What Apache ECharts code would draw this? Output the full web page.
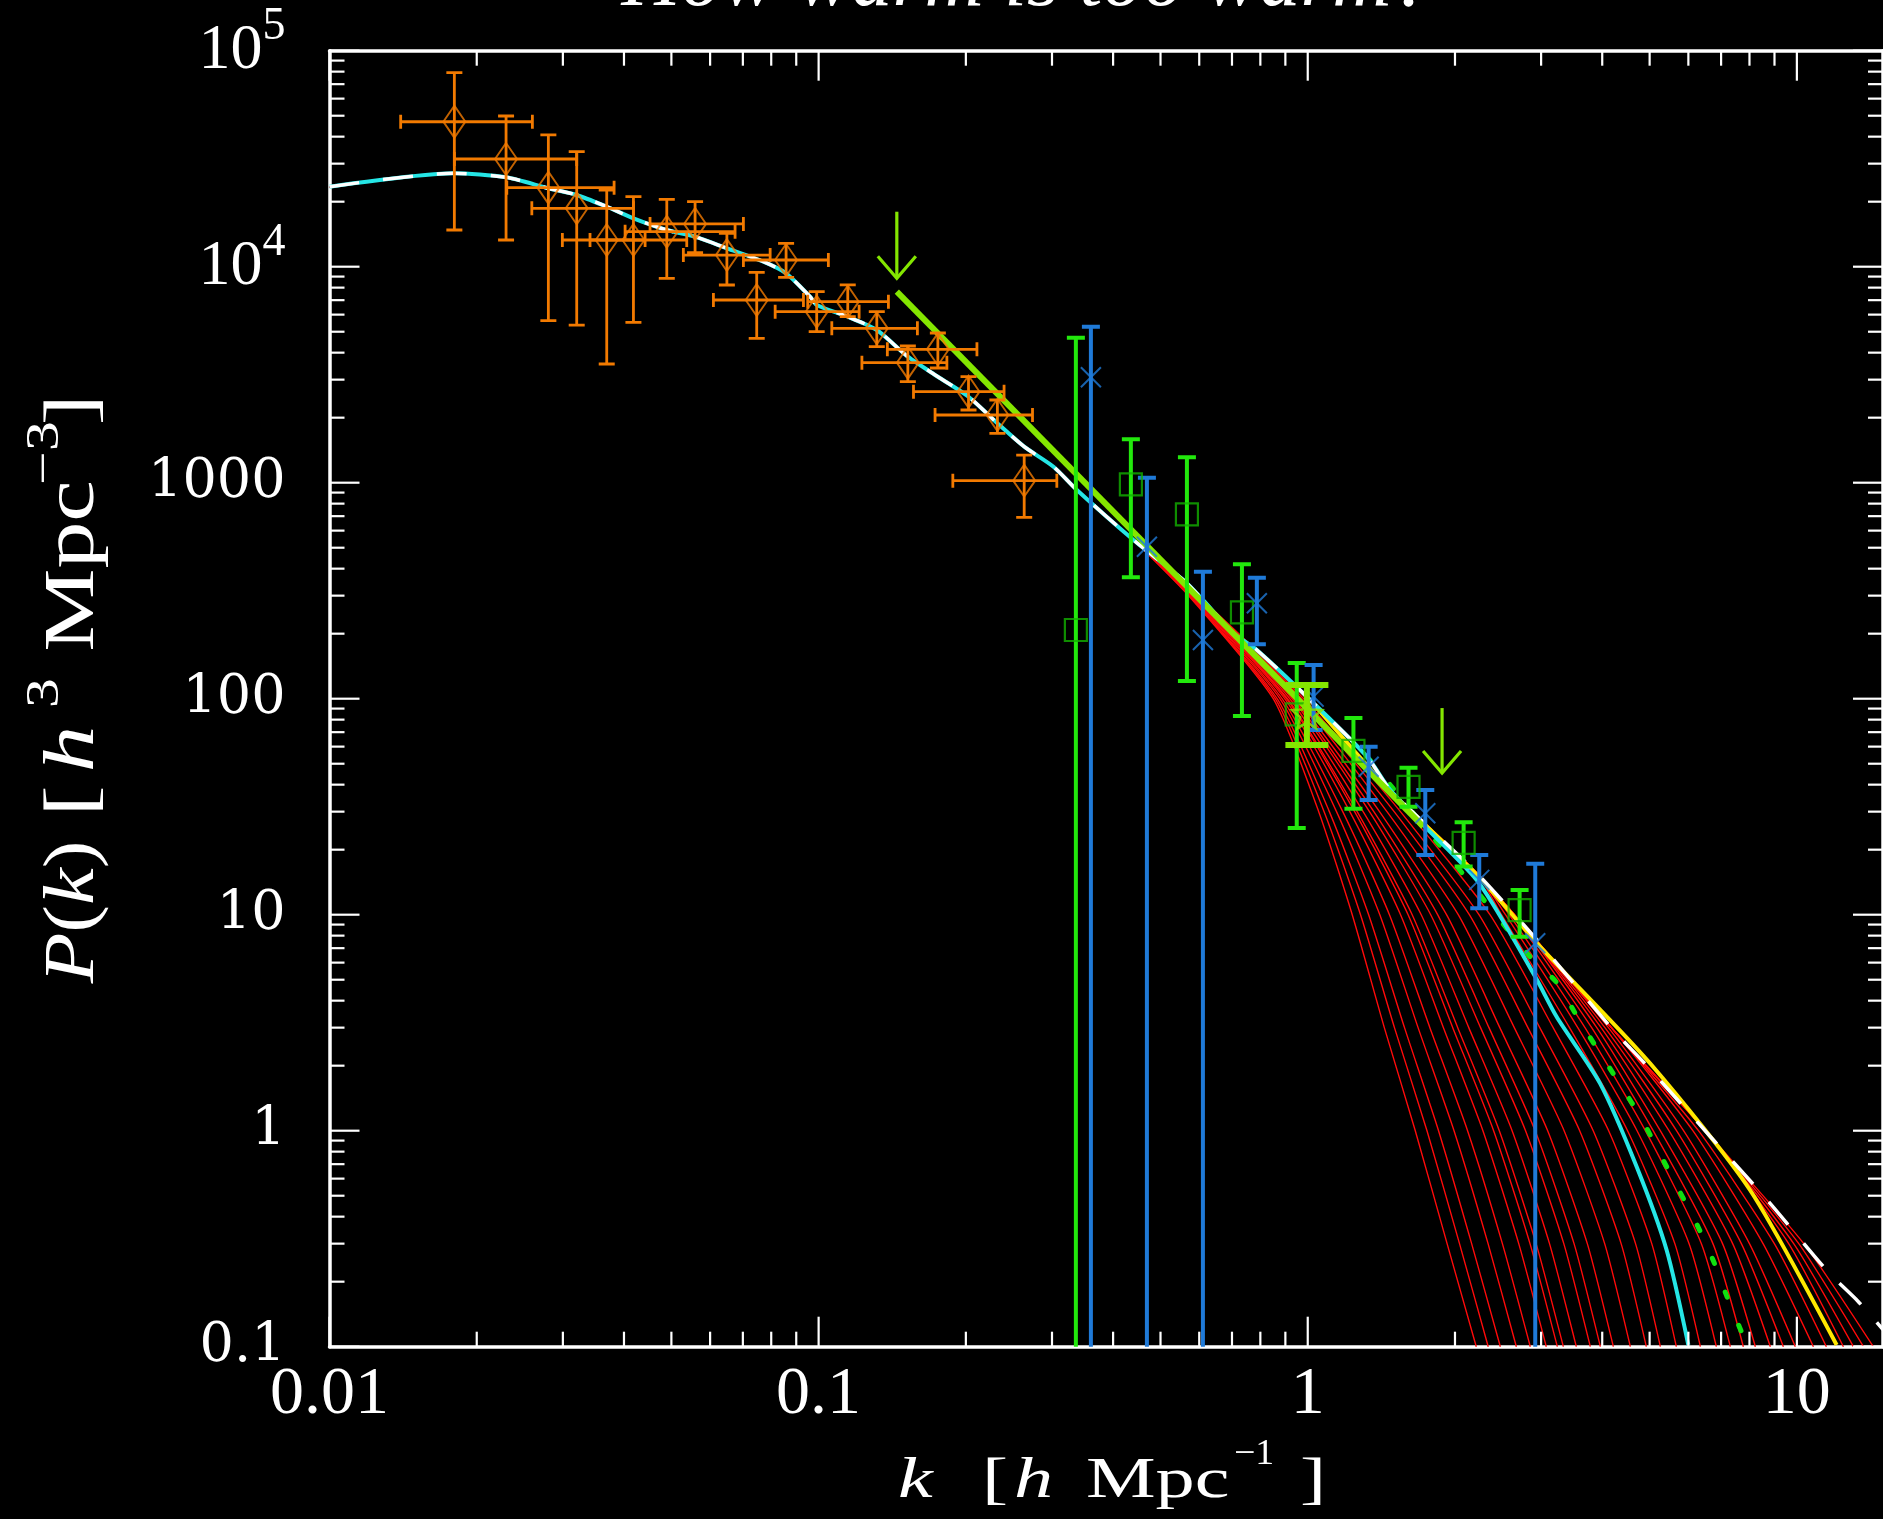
<!DOCTYPE html>
<html><head><meta charset="utf-8">
<script src="https://cdn.jsdelivr.net/npm/echarts@6/dist/echarts.min.js"></script>
<style>html,body{margin:0;padding:0;background:#000;overflow:hidden}#c{width:1883px;height:1519px}</style>
</head><body><div id="c"></div>
<script>
// ---------- data ----------
const xMajorTicks = [0.01, 0.1, 1, 10];
const xMinorTicks = [0.02,0.03,0.04,0.05,0.06,0.07,0.08,0.09,0.2,0.3,0.4,0.5,0.6,0.7,0.8,0.9,2,3,4,5,6,7,8,9];
const yMajorTicks = [0.1, 1, 10, 100, 1000, 10000, 100000];
const yMinorTicks = [0.2,0.3,0.4,0.5,0.6,0.7,0.8,0.9,2,3,4,5,6,7,8,9,20,30,40,50,60,70,80,90,200,300,400,500,600,700,800,900,2000,3000,4000,5000,6000,7000,8000,9000,20000,30000,40000,50000,60000,70000,80000,90000];
const xTickLabels = {'-2': '0.01', '-1': '0.1', '0': '1', '1': '10'};
const yTickLabels = {'-1': '0.1', '0': '1', '1': '10', '2': '100', '3': '1000'};

// orange galaxy points: k, P, Plo, Phi, klo, khi
const orangePts = [
 [0.0180, 46900, 14790, 79100, 0.01398, 0.02599],
 [0.02296, 31520, 13290, 49860, 0.0180, 0.03202],
 [0.02802, 23220, 5623, 40730, 0.02304, 0.03818],
 [0.03202, 18640, 5370, 34080, 0.02592, 0.04182],
 [0.03688, 13290, 3544, 22650, 0.02993, 0.04418],
 [0.04182, 13290, 5528, 21090, 0.03409, 0.05375],
 [0.04893, 14520, 8838, 20510, 0.04021, 0.06748],
 [0.05590, 15770, 11610, 20000, 0.04522, 0.07018],
 [0.06493, 11320, 8226, 14280, 0.0529, 0.0796],
 [0.07472, 7013, 4662, 9420, 0.06094, 0.0931],
 [0.0858, 10740, 8930, 12830, 0.07018, 0.1047],
 [0.0991, 6190, 5000, 7660, 0.0815, 0.121],
 [0.1147, 6887, 5868, 8230, 0.095, 0.1389],
 [0.1315, 5185, 4262, 6190, 0.1064, 0.1592],
 [0.1522, 3594, 2935, 4294, 0.1226, 0.1829],
 [0.1753, 4146, 3396, 4932, 0.1382, 0.2107],
 [0.2025, 2638, 2171, 3095, 0.1563, 0.2394],
 [0.2320, 2058, 1693, 2415, 0.1730, 0.2737],
 [0.2632, 1022, 691, 1343, 0.1881, 0.3069]
];
// green squares: k, P, Plo, Phi  (Plo 0.01 = bar runs off the bottom)
const greenPts = [
 [0.3357, 208, 0.01, 4691],
 [0.4349, 983, 364.8, 1589],
 [0.5662, 714, 120.8, 1311],
 [0.7336, 251, 83.2, 419],
 [0.9495, 84.7, 25.2, 146.3],
 [1.240, 57.3, 30.9, 81.4],
 [1.607, 39.1, 31.6, 47.9],
 [2.083, 21.5, 16.7, 26.8],
 [2.711, 10.5, 7.91, 13.0]
];
// blue crosses: k, P, Plo, Phi
const bluePts = [
 [0.3603, 3076, 0.01, 5274],
 [0.469, 505.5, 0.01, 1055],
 [0.6105, 187, 0.01, 387],
 [0.787, 276.5, 178.6, 363.3],
 [1.028, 102.2, 71.6, 143.2],
 [1.332, 48.4, 34.0, 59.9],
 [1.739, 29.5, 18.9, 37.8],
 [2.242, 14.5, 10.7, 18.9],
 [2.918, 7.37, 0.01, 17.2]
];
// lime point with wide caps: k, P, Plo, Phi
const limePts = [[0.996, 85.5, 61.0, 115.7]];
// arrows: k, P at tail, P at tip
const arrows = [[0.1445, 17970, 8837], [1.882, 90.5, 45.3]];
// power-law fit segment
const fitLine = [[0.1445, 7660], [1.723, 25.55]];

// CDM model (white dashed)
const cdmCurve = [
 [0.01,23460],[0.01792,27070],[0.02296,25930],[0.02802,23070],[0.03202,21480],[0.03688,18950],
 [0.04182,16750],[0.04893,14790],[0.0559,13770],[0.06493,12170],[0.07711,10550],[0.0858,9320],
 [0.09607,7262],[0.0991,6648],[0.1147,5868],[0.1315,5092],[0.1522,3831],[0.1753,3095],[0.2025,2501],
 [0.232,1884],[0.2632,1468],[0.3021,1186],[0.3373,925],[0.4403,543],[0.557,354],[0.6105,286.4],
 [0.7051,200.8],[0.787,168.1],[1.012,98.6],[1.322,53.9],[1.475,37.8],[2.218,15.55],[2.942,7.637],
 [4.155,3.03],[4.915,2.02],[6.62,0.952],[8.76,0.469],[11.59,0.2215],[13.33,0.1624],[15,0.12]
];
// cyan model: follows the CDM to k~1.5, then these points
const cyanTail = [[1.739,25.5],[2.242,13.97],[2.918,5.16],[3.227,3.37],[3.959,1.657],[4.704,0.681],[5.416,0.2804],[6.0,0.1018]];
const yellowCurve = [[1.012,98.6],[1.475,37.4],[2.218,15.3],[3.031,6.865],[5.01,2.051],[8.02,0.5315],[12.06,0.1018]];
const greenDotted = [[1.322,53.9],[2.019,16.7],[2.847,6.39],[3.227,4.855],[3.604,3.195],[3.959,2.288],[4.382,1.598],[4.815,1.133],[5.25,0.780],[5.723,0.537],[6.238,0.370],[6.749,0.250],[7.185,0.1722],[7.711,0.1165]];

// red WDM family: k at which each curve crosses the P levels below
const redLeftLevels = [300, 100, 30, 10, 3, 1, 0.3, 0.1];
const redLeftK = [
 [0.5707, 0.850, 1.053, 1.233, 1.434, 1.659, 1.927, 2.211],
 [0.5724, 0.858, 1.080, 1.282, 1.504, 1.753, 2.043, 2.339],
 [0.5737, 0.866, 1.107, 1.332, 1.577, 1.851, 2.163, 2.476],
 [0.5759, 0.877, 1.145, 1.404, 1.681, 1.991, 2.337, 2.670],
 [0.5776, 0.886, 1.179, 1.469, 1.777, 2.122, 2.500, 2.851],
 [0.5798, 0.897, 1.219, 1.548, 1.894, 2.281, 2.700, 3.074],
 [0.5811, 0.905, 1.247, 1.604, 1.979, 2.399, 2.847, 3.238],
 [0.5819, 0.909, 1.262, 1.635, 2.026, 2.464, 2.930, 3.331],
 [0.5837, 0.919, 1.298, 1.706, 2.134, 2.617, 3.121, 3.541],
 [0.5856, 0.929, 1.337, 1.784, 2.256, 2.788, 3.338, 3.782],
 [0.5867, 0.936, 1.365, 1.843, 2.347, 2.917, 3.503, 3.965],
 [0.5886, 0.946, 1.402, 1.922, 2.470, 3.094, 3.729, 4.215],
 [0.5909, 0.958, 1.452, 2.031, 2.644, 3.343, 4.046, 4.566],
 [0.5928, 0.970, 1.502, 2.140, 2.819, 3.597, 4.372, 4.923],
 [0.5947, 0.981, 1.547, 2.239, 2.981, 3.834, 4.679, 5.259],
 [0.5968, 0.993, 1.599, 2.358, 3.175, 4.123, 5.050, 5.670]
];
const redRightLevels = [10, 3, 1, 0.3, 0.1];
const redRightK = [
 [2.489, 3.429, 4.507, 5.630, 6.349],
 [2.537, 3.565, 4.713, 6.021, 6.845],
 [2.581, 3.688, 4.901, 6.379, 7.311],
 [2.622, 3.806, 5.084, 6.736, 7.773],
 [2.644, 3.899, 5.257, 7.047, 8.225],
 [2.644, 3.979, 5.476, 7.391, 8.827],
 [2.644, 4.051, 5.675, 7.700, 9.385],
 [2.644, 4.119, 5.866, 8.000, 9.929],
 [2.644, 4.176, 6.129, 8.529, 10.81],
 [2.644, 4.176, 6.293, 8.994, 11.49],
 [2.644, 4.176, 6.500, 9.621, 12.45],
 [2.644, 4.176, 6.500, 9.851, 13.05],
 [2.644, 4.176, 6.500, 10.09, 13.68],
 [2.644, 4.176, 6.500, 10.33, 14.33]
];
const redLeftShareK = 0.4403;   // left curves share the CDM up to here
const redRightShareK = 2.218;   // right curves share the CDM up to here
const cyanShareK = 1.475;

// ---------- colours ----------
const C_ORANGE = '#f27a00', C_GREEN = '#22e80c', C_GREEN_SQ = '#13b000', C_BLUE = '#1f7ad8',
      C_LIME = '#84e600', C_CYAN = '#25e6e6', C_RED = '#ff0a0a', C_YELLOW = '#ffe800';

// ---------- build ----------
const chart = echarts.init(document.getElementById('c'), null, {renderer: 'canvas'});

function tickRender(axis) {
  return function (params, api) {
    const cs = params.coordSys, len = api.value(2), st = {stroke: '#fff', lineWidth: 2.2};
    if (axis === 'x') {
      const x = api.coord([api.value(0), 1])[0];
      return {type: 'group', children: [
        {type: 'line', shape: {x1: x, y1: cs.y + cs.height, x2: x, y2: cs.y + cs.height - len}, style: st},
        {type: 'line', shape: {x1: x, y1: cs.y, x2: x, y2: cs.y + len}, style: st}]};
    }
    const y = api.coord([1, api.value(1)])[1];
    return {type: 'group', children: [
      {type: 'line', shape: {x1: cs.x, y1: y, x2: cs.x + len, y2: y}, style: st},
      {type: 'line', shape: {x1: cs.x + cs.width, y1: y, x2: cs.x + cs.width - len, y2: y}, style: st}]};
  };
}
function errRender(o) {
  return function (params, api) {
    const k = api.value(0), P = api.value(1), lo = api.value(2), hi = api.value(3);
    const klo = api.value(4), khi = api.value(5);
    const c = api.coord([k, P]), a = api.coord([k, lo]), b = api.coord([k, hi]);
    const st = {stroke: o.color, lineWidth: o.lw};
    const w = o.capW / 2;
    const ch = [
      {type: 'line', shape: {x1: c[0], y1: a[1], x2: c[0], y2: b[1]}, style: st},
      {type: 'line', shape: {x1: c[0] - w, y1: a[1], x2: c[0] + w, y2: a[1]}, style: st},
      {type: 'line', shape: {x1: c[0] - w, y1: b[1], x2: c[0] + w, y2: b[1]}, style: st}];
    if (klo > 0 && khi > klo) {
      const l = api.coord([klo, P]), r = api.coord([khi, P]), h = o.capH / 2;
      ch.push({type: 'line', shape: {x1: l[0], y1: c[1], x2: r[0], y2: c[1]}, style: st},
              {type: 'line', shape: {x1: l[0], y1: c[1] - h, x2: l[0], y2: c[1] + h}, style: st},
              {type: 'line', shape: {x1: r[0], y1: c[1] - h, x2: r[0], y2: c[1] + h}, style: st});
    }
    return {type: 'group', children: ch};
  };
}
function arrowRender(params, api) {
  const t = api.coord([api.value(0), api.value(1)]), b = api.coord([api.value(0), api.value(2)]);
  const st = {stroke: C_LIME, lineWidth: 3.2, fill: null};
  return {type: 'group', children: [
    {type: 'line', shape: {x1: t[0], y1: t[1], x2: b[0], y2: b[1]}, style: st},
    {type: 'polyline', shape: {points: [[b[0] - 19, b[1] - 22], [b[0], b[1]], [b[0] + 19, b[1] - 22]]}, style: st}]};
}
function lineSeries(data, color, width, extra) {
  return Object.assign({type: 'line', data: data, showSymbol: false, symbol: 'none', silent: true,
    lineStyle: {color: color, width: width}, clip: true}, extra || {});
}

const xTickData = xMajorTicks.map(v => [v, 1, 30]).concat(xMinorTicks.map(v => [v, 1, 15]));
const yTickData = yMajorTicks.map(v => [1, v, 30]).concat(yMinorTicks.map(v => [1, v, 15]));

const series = [];
// red family
redLeftK.forEach(ks => {
  const pts = cdmCurve.filter(p => p[0] <= redLeftShareK).concat(ks.map((k, j) => [k, redLeftLevels[j]]));
  series.push(lineSeries(pts, C_RED, 1.4, {smooth: 0.2, z: 2}));
});
redRightK.forEach(ks => {
  const pts = cdmCurve.filter(p => p[0] <= redRightShareK).concat(ks.map((k, j) => [k, redRightLevels[j]]));
  series.push(lineSeries(pts, C_RED, 1.4, {smooth: 0.2, z: 2}));
});
series.push(lineSeries(yellowCurve, C_YELLOW, 4, {smooth: 0.25, z: 3}));
series.push(lineSeries(greenDotted, '#10e010', 5, {smooth: 0.25, z: 3,
  lineStyle: {color: '#10e010', width: 5, type: [6, 30], cap: 'round'}}));
series.push(lineSeries(cdmCurve.filter(p => p[0] <= cyanShareK).concat(cyanTail), C_CYAN, 4, {smooth: 0.25, z: 4}));
series.push(lineSeries(cdmCurve, '#ffffff', 3.5, {smooth: 0.25, z: 5,
  lineStyle: {color: '#ffffff', width: 3.5, type: [30, 24]}}));
series.push(lineSeries(fitLine, C_LIME, 6, {z: 6}));

// data with error bars
series.push({type: 'custom', renderItem: errRender({color: C_ORANGE, lw: 2.8, capW: 16, capH: 14}),
  data: orangePts, clip: true, z: 7, encode: {x: 0, y: 1}, silent: true});
series.push({type: 'scatter', data: orangePts.map(p => [p[0], p[1]]), symbol: 'diamond', symbolSize: [22, 32],
  itemStyle: {color: 'rgba(0,0,0,0)', borderColor: C_ORANGE, borderWidth: 2}, z: 7, silent: true});
series.push({type: 'custom', renderItem: errRender({color: C_GREEN, lw: 4, capW: 18, capH: 0}),
  data: greenPts.map(p => p.concat([0, 0])), clip: true, z: 8, encode: {x: 0, y: 1}, silent: true});
series.push({type: 'scatter', data: greenPts.map(p => [p[0], p[1]]), symbol: 'rect', symbolSize: 22,
  itemStyle: {color: 'rgba(0,0,0,0)', borderColor: C_GREEN_SQ, borderWidth: 2.2}, z: 8, silent: true});
series.push({type: 'custom', renderItem: errRender({color: C_BLUE, lw: 4, capW: 18, capH: 0}),
  data: bluePts.map(p => p.concat([0, 0])), clip: true, z: 8, encode: {x: 0, y: 1}, silent: true});
series.push({type: 'scatter', data: bluePts.map(p => [p[0], p[1]]), symbol: 'path://M0,0L20,20M20,0L0,20', symbolSize: 20,
  itemStyle: {color: 'rgba(0,0,0,0)', borderColor: C_BLUE, borderWidth: 2}, z: 8, silent: true});
series.push({type: 'custom', renderItem: errRender({color: C_LIME, lw: 6, capW: 43, capH: 0}),
  data: limePts.map(p => p.concat([0, 0])), clip: true, z: 9, encode: {x: 0, y: 1}, silent: true});
series.push({type: 'scatter', data: limePts.map(p => [p[0], p[1]]),
  symbol: 'path://M10,0L12.9,7.2L20,7.6L14.5,12.2L16.2,19.5L10,15.5L3.8,19.5L5.5,12.2L0,7.6L7.1,7.2Z', symbolSize: 30,
  itemStyle: {color: 'rgba(0,0,0,0)', borderColor: C_LIME, borderWidth: 2.5}, z: 9, silent: true});
series.push({type: 'custom', renderItem: arrowRender, data: arrows, encode: {x: 0, y: 1}, z: 9, silent: true});
// ticks
series.push({type: 'custom', renderItem: tickRender('x'), data: xTickData, encode: {x: 0, y: 1}, z: 10, silent: true});
series.push({type: 'custom', renderItem: tickRender('y'), data: yTickData, encode: {x: 0, y: 1}, z: 10, silent: true});

// text pieces (the original lettering is wide, so pieces are stretched along the line)
const SERIF = '"Liberation Serif"';
function txt(s, x, y, size, italic, sx) {
  return {type: 'text', x: x, y: y, scaleX: sx || 1, silent: true,
    style: {text: s, fill: '#fff', font: (italic ? 'italic ' : '') + size + 'px ' + SERIF, align: 'left', verticalAlign: 'middle'}};
}
function vtxt(s, x, y, size, sx, rich) {
  const t = {type: 'text', x: x, y: y, rotation: Math.PI / 2, scaleX: sx || 1, silent: true,
    style: {text: s, fill: '#fff', font: size + 'px ' + SERIF, align: 'center', verticalAlign: 'middle'}};
  if (rich) t.style.rich = rich;
  return t;
}
const yRich = {
  i: {fontFamily: 'Liberation Serif', fontStyle: 'italic', fontSize: 72, fill: '#fff'},
  n: {fontFamily: 'Liberation Serif', fontSize: 72, fill: '#fff'}
};
const graphics = [
  {type: 'text', x: 1027, y: -58, silent: true,
   style: {text: 'How warm is too warm?', fill: '#fff', font: 'italic 82px ' + SERIF, align: 'center', verticalAlign: 'top'}},
  // x-axis title  k [h Mpc^-1]
  txt('k', 898, 1482, 58, true, 1.35), txt('[', 982, 1482, 58, false, 1.35), txt('h', 1014, 1482, 58, true, 1.35),
  txt('Mpc', 1086, 1482, 58, false, 1.35), txt('\u22121', 1234, 1455, 36, false, 1.05), txt(']', 1300, 1482, 58, false, 1.35),
  // y-axis title  P(k) [h^3 Mpc^-3]
  vtxt('{i|P}{n|(}{i|k}{n|)}', 74, 912, 72, 1.15, yRich),
  vtxt('[', 74, 801, 72, 1.3),
  vtxt('{i|h}', 74, 749, 72, 1.3, yRich),
  vtxt('3', 46, 693, 46, 1.3),
  vtxt('Mpc', 74, 566, 72, 1.3),
  vtxt('\u22123', 46, 453, 46, 1.3),
  vtxt(']', 74, 410, 72, 1.3)
];

const axisLine = {show: true, lineStyle: {color: '#fff', width: 3.5}};
const option = {
  backgroundColor: '#000',
  animation: false,
  grid: {left: 329.5, top: 50.7, right: 0, bottom: 172.3, containLabel: false},
  xAxis: [
    {type: 'log', logBase: 10, min: 0.01, max: 15, axisLine: axisLine, axisTick: {show: false},
     splitLine: {show: false}, minorTick: {show: false},
     axisLabel: {color: '#fff', fontFamily: 'Liberation Serif', fontSize: 68, margin: 14, showMaxLabel: false,
       formatter: v => xTickLabels[Math.round(Math.log10(v))] || ''}},
    {type: 'log', logBase: 10, min: 0.01, max: 15, position: 'top', axisLine: axisLine, axisTick: {show: false},
     splitLine: {show: false}, axisLabel: {show: false}}
  ],
  yAxis: [
    {type: 'log', logBase: 10, min: 0.1, max: 100000, axisLine: axisLine, axisTick: {show: false},
     splitLine: {show: false},
     axisLabel: {color: '#fff', margin: 44,
       formatter: v => { const e = Math.round(Math.log10(v)); if (e >= 4) return '{m|10}{s|' + e + '}'; return '{d|' + yTickLabels[e] + '}'; },
       rich: {m: {fontFamily: 'Liberation Serif', fontSize: 64, color: '#fff', lineHeight: 94},
              s: {fontFamily: 'Liberation Serif', fontSize: 46, color: '#fff', lineHeight: 46, verticalAlign: 'top'},
              d: {fontFamily: 'DejaVu Serif', fontSize: 54, color: '#fff'}}}},
    {type: 'log', logBase: 10, min: 0.1, max: 100000, position: 'right', axisLine: axisLine, axisTick: {show: false},
     splitLine: {show: false}, axisLabel: {show: false}}
  ],
  graphic: graphics,
  series: series
};
chart.setOption(option);
</script></body></html>
